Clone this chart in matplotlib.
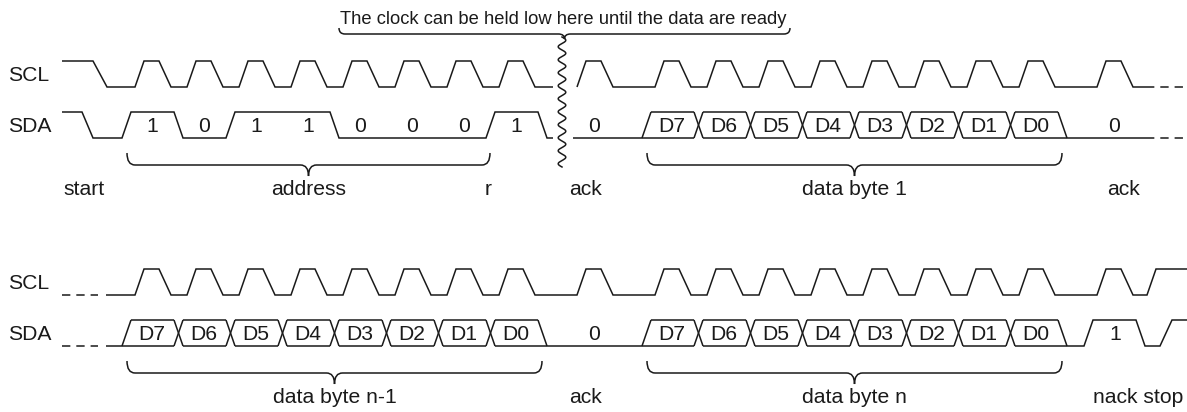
import numpy as np
import matplotlib
matplotlib.use('Agg')
import matplotlib.pyplot as plt
from matplotlib.path import Path
from matplotlib.patches import PathPatch

plt.rcParams['font.family'] = ['Liberation Sans', 'DejaVu Sans']
plt.rcParams['lines.scale_dashes'] = False

# ---------------- data ----------------
signal_names = ['SCL', 'SDA']
address_bits = [1, 0, 1, 1, 0, 0, 0]
rw_bit = 1
ack_bit = 0
nack_bit = 1
data_bits = ['D7', 'D6', 'D5', 'D4', 'D3', 'D2', 'D1', 'D0']
row1_labels = ['start', 'address', 'r', 'ack', 'data byte 1', 'ack']
row2_labels = ['data byte n-1', 'ack', 'data byte n', 'nack stop']
note_text = 'The clock can be held low here until the data are ready'

# ---------------- layout (pixel units) ----------------
W, H = 1187, 412
X0 = 62
T = 52
RISE, HIGH, FALL = 9, 15, 12
LEAD, TR = 13, 9
GAP = 78
FIRST = 135
ROW_DY = 208
SCL_HI, SCL_LO = 61, 87
SDA_HI, SDA_LO = 112, 138
LW = 1.1
C = '#1a1a1a'
FS = 15.2
DASH = (0, (6.0, 4.3))

fig = plt.figure(figsize=(W / 100, H / 100), dpi=100)
ax = fig.add_axes([0, 0, 1, 1])
ax.set_xlim(0, W)
ax.set_ylim(H, 0)
ax.axis('off')


def line(pts, dashed=False):
    xs, ys = zip(*pts)
    kw = dict(color=C, lw=LW, solid_capstyle='butt', solid_joinstyle='miter')
    if dashed:
        kw['linestyle'] = DASH
    ax.plot(xs, ys, **kw)


def pulses(Rs, hi, lo):
    pts = []
    for R in Rs:
        pts += [(R, lo), (R + RISE, hi), (R + RISE + HIGH, hi),
                (R + RISE + HIGH + FALL, lo)]
    return pts


def levels(bits, Rs, start_level, hi, lo):
    pts = []
    cur = start_level
    for b, R in zip(bits, Rs):
        if b != cur:
            a = R - LEAD
            pts += [(a, hi if cur else lo), (a + TR, hi if b else lo)]
            cur = b
    return pts, cur


def bus(Rs, hi, lo):
    starts = [R - LEAD for R in Rs] + [Rs[-1] + T - LEAD]
    line([(starts[0], lo), (starts[0] + TR, hi)])
    for k in range(1, len(Rs)):
        a = starts[k]
        line([(a, hi), (a + TR, lo)])
        line([(a, lo), (a + TR, hi)])
    line([(starts[-1], hi), (starts[-1] + TR, lo)])
    for k in range(len(Rs)):
        line([(starts[k] + TR, hi), (starts[k + 1], hi)])
        left = starts[k] + (TR if k > 0 else 0)
        right = starts[k + 1] + (TR if k == len(Rs) - 1 else 0)
        line([(left, lo), (right, lo)])
    return starts[0], starts[-1] + TR


def brace(xl, xr, ytop, ymid, ytip, r=8):
    xc = (xl + xr) / 2
    verts = [(xl, ytop), (xl, ymid), (xl + r, ymid),
             (xc - r, ymid), (xc, ymid), (xc, ytip),
             (xc, ymid), (xc + r, ymid),
             (xr - r, ymid), (xr, ymid), (xr, ytop)]
    codes = [Path.MOVETO, Path.CURVE3, Path.CURVE3,
             Path.LINETO, Path.CURVE3, Path.CURVE3,
             Path.CURVE3, Path.CURVE3,
             Path.LINETO, Path.CURVE3, Path.CURVE3]
    ax.add_patch(PathPatch(Path(verts, codes), fill=False, ec=C, lw=LW))
    return xc


def text(x, y, s, fs=FS, ha='center'):
    ax.text(x, y, s, fontsize=fs, ha=ha, va='baseline', color=C)


# timeline
byte1_R = [FIRST + T * i for i in range(8)]
ack1_R = byte1_R[-1] + GAP
byte2_R = [ack1_R + GAP + T * i for i in range(8)]
ack2_R = byte2_R[-1] + GAP
WAVY_X = byte1_R[-1] + 63
END_SOLID = ack2_R + 49

# ================= row 1 =================
dy = 0
hi, lo = SCL_HI + dy, SCL_LO + dy
line([(X0, hi), (FIRST - 42, hi), (FIRST - 28, lo)] + pulses(byte1_R, hi, lo)
     + [(WAVY_X - 9, lo)])
line(pulses([ack1_R] + byte2_R + [ack2_R], hi, lo) + [(END_SOLID, lo)])
line([(END_SOLID, lo), (W, lo)], dashed=True)

hi, lo = SDA_HI + dy, SDA_LO + dy
pts = [(X0, hi), (FIRST - 53, hi), (FIRST - 42, lo)]
bits1 = address_bits + [rw_bit]
p, cur = levels(bits1, byte1_R, 0, hi, lo)
pts += p
p, cur = levels([ack_bit], [byte1_R[-1] + T], cur, hi, lo)
pts += p + [(WAVY_X - 9, lo)]
line(pts)
b0, b1 = bus(byte2_R, hi, lo)
line([(WAVY_X + 11, lo), (b0, lo)])
line([(b1, lo), (END_SOLID, lo)])
line([(END_SOLID, lo), (W, lo)], dashed=True)

for b, R in zip(bits1, byte1_R):
    text(R + 17, lo - 6, str(b))
text(ack1_R + 17, lo - 6, str(ack_bit))
text(ack2_R + 17, lo - 6, str(ack_bit))
for s, R in zip(data_bits, byte2_R):
    text(R + 17, lo - 6, s)

yb = (153 + dy, 165 + dy, 176 + dy)
xa = brace(byte1_R[0] - LEAD + 5, byte1_R[7] - LEAD + 4, *yb)
xd = brace(byte2_R[0] - LEAD + 5, byte2_R[-1] + T - LEAD + 4, *yb)
base = 195 + dy
text(FIRST - 51, base, row1_labels[0])
text(xa, base, row1_labels[1])
text(byte1_R[7] - 11, base, row1_labels[2])
text(ack1_R + 9, base, row1_labels[3])
text(xd, base, row1_labels[4])
text(ack2_R + 27, base, row1_labels[5])

# wavy separator and note
yw = np.linspace(37, 167, 400)
ax.plot(WAVY_X + 3.8 * np.sin(2 * np.pi * (yw - 37) / 13), yw, color=C, lw=LW)
brace(WAVY_X - 223, WAVY_X + 228, 28, 34, 39, r=6)
text(WAVY_X + 1, 24, note_text, fs=13.2)

# ================= row 2 =================
dy = ROW_DY
hi, lo = SCL_HI + dy, SCL_LO + dy
line([(X0, lo), (98, lo)], dashed=True)
line([(106, lo)] + pulses(byte1_R + [ack1_R] + byte2_R + [ack2_R], hi, lo)
     + [(ack2_R + 50, lo), (ack2_R + 59, hi), (W, hi)])

hi, lo = SDA_HI + dy, SDA_LO + dy
line([(X0, lo), (98, lo)], dashed=True)
a0, a1 = bus(byte1_R, hi, lo)
line([(106, lo), (a0, lo)])
b0, b1 = bus(byte2_R, hi, lo)
line([(a1, lo), (b0, lo)])
p, cur = levels([nack_bit, 0], [ack2_R, ack2_R + T], 0, hi, lo)
line([(b1, lo)] + p + [(ack2_R + 63, lo), (ack2_R + 75, hi), (W, hi)])

for s, R in zip(data_bits, byte1_R):
    text(R + 17, lo - 6, s)
for s, R in zip(data_bits, byte2_R):
    text(R + 17, lo - 6, s)
text(ack1_R + 17, lo - 6, str(ack_bit))
text(ack2_R + 18, lo - 6, str(nack_bit))

yb = (153 + dy, 165 + dy, 176 + dy)
xn1 = brace(byte1_R[0] - LEAD + 5, byte1_R[-1] + T - LEAD + 4, *yb)
xn = brace(byte2_R[0] - LEAD + 5, byte2_R[-1] + T - LEAD + 4, *yb)
base = 195 + dy
text(xn1, base, row2_labels[0])
text(ack1_R + 9, base, row2_labels[1])
text(xn, base, row2_labels[2])
text(ack2_R + 41, base, row2_labels[3])

# signal names
for k, dy in enumerate([0, ROW_DY]):
    ax.text(8, SCL_LO + dy - 6, signal_names[0], fontsize=FS, ha='left',
            va='baseline', color=C)
    ax.text(8, SDA_LO + dy - 6, signal_names[1], fontsize=FS, ha='left',
            va='baseline', color=C)

fig.savefig('out.png', dpi=100, facecolor='white')
